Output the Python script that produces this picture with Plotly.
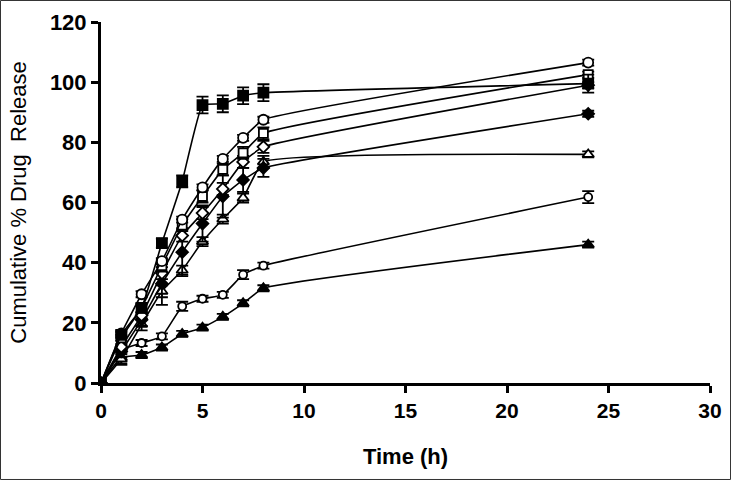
import plotly.graph_objects as go

time_h = [0, 1, 2, 3, 4, 5, 6, 7, 8, 24]

filled_square = [0, 16, 25, 46.5, 67, 92.4, 92.8, 95.5, 96.5, 99.5]
filled_square_err = [0, 1, 1.5, 1.5, 2, 2.8, 2.8, 2.8, 2.8, 3]

open_circle = [0, 16.5, 29.5, 40.5, 54.3, 65, 74.5, 81.5, 87.5, 106.5]
open_circle_err = [0, 1, 1, 1, 1, 1, 1, 1, 1, 1]

open_square = [0, 15, 25, 39, 52.5, 62, 71, 76.5, 83, 102.5]
open_square_err = [0, 1, 1.5, 2, 2, 2, 2, 2, 2, 1]

open_diamond = [0, 12, 22.5, 36.5, 49, 56.5, 64.5, 73.5, 78.5, 99]
open_diamond_err = [0, 1, 1, 2, 2, 2, 2, 2, 2, 1]

filled_diamond = [0, 10.5, 21, 33, 43.5, 53, 62, 67.5, 71.5, 89.5]
filled_diamond_err = [0, 2, 2, 7, 8, 6, 7, 4, 3, 1]

open_triangle = [0, 8, 19.5, 30.5, 37.5, 47, 54.5, 61.5, 73.5, 76]
open_triangle_err = [0, 2, 2, 2, 1.5, 1.5, 1.5, 1.5, 2, 1]

slashed_circle = [0, 11, 13.3, 15.5, 25.5, 28, 29.3, 36, 39, 61.8]
slashed_circle_err = [0, 1.5, 1, 1, 1.5, 1, 1, 1.5, 1, 2]

filled_triangle = [0, 8.5, 9.3, 11.8, 16.3, 18.4, 22, 26.5, 31.5, 46]
filled_triangle_err = [0, 2, 1, 1, 1, 1, 1, 1, 1, 1]

series = [
    (slashed_circle, slashed_circle_err, "circle", "white", 8),
    (filled_triangle, filled_triangle_err, "triangle-up", "black", 10),
    (open_triangle, open_triangle_err, "triangle-up", "white", 10),
    (filled_diamond, filled_diamond_err, "diamond", "black", 9),
    (open_diamond, open_diamond_err, "diamond", "white", 9),
    (open_square, open_square_err, "square", "white", 9),
    (open_circle, open_circle_err, "circle", "white", 10),
    (filled_square, filled_square_err, "square", "black", 10),
]

fig = go.Figure()
for vals, err, sym, fill, size in series:
    fig.add_trace(go.Scatter(
        x=time_h, y=vals, mode="lines+markers",
        line=dict(color="black", width=1.6, shape="spline", smoothing=0.35),
        marker=dict(symbol=sym, size=size, color=fill,
                    line=dict(color="black", width=1.8)),
        error_y=dict(type="data", array=err, visible=True,
                     color="black", thickness=1.8, width=6),
        showlegend=False,
    ))

fig.update_layout(
    width=731, height=480,
    margin=dict(l=101, r=21, t=22, b=97),
    paper_bgcolor="white", plot_bgcolor="white",
    font=dict(family="Liberation Sans, Arial, sans-serif", color="black"),
    xaxis=dict(range=[0, 30], dtick=5, tick0=0, showgrid=False, zeroline=False,
               automargin=False,
               showline=True, linecolor="black", linewidth=3,
               ticks="outside", ticklen=7, tickwidth=3, tickcolor="black",
               tickfont=dict(size=21, family="Liberation Sans, Arial", weight="bold"),
               title=dict(text="<b>Time (h)</b>", font=dict(size=22), standoff=28)),
    yaxis=dict(range=[0, 120], dtick=20, tick0=0, showgrid=False, zeroline=False,
               automargin=False,
               showline=True, linecolor="black", linewidth=3,
               ticks="outside", ticklen=7, tickwidth=3, tickcolor="black",
               tickfont=dict(size=22, family="Liberation Sans, Arial", weight="bold"),
               title=dict(text="Cumulative % Drug  Release", font=dict(size=22), standoff=18)),
    shapes=[dict(type="rect", xref="paper", yref="paper",
                 x0=-0.165, x1=1.0337, y0=-0.2673, y1=1.0596,
                 line=dict(color="#333333", width=1))],
)

fig.write_html("out.html", config={"displayModeBar": False},
               post_script="document.body.style.margin='0px';")
